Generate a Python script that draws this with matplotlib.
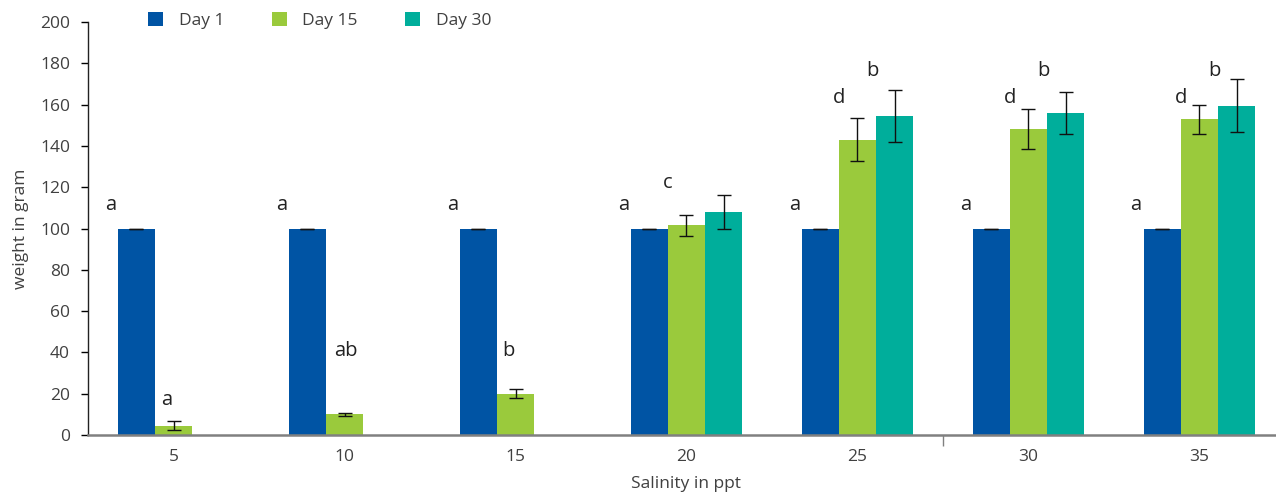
import numpy as np
import matplotlib
matplotlib.use("Agg")
import matplotlib.pyplot as plt

plt.rcParams["font.family"] = ["Open Sans", "DejaVu Sans"]

SALINITY = ["5", "10", "15", "20", "25", "30", "35"]
DAY1 = [100, 100, 100, 100, 100, 100, 100]
DAY1_ERR = [0, 0, 0, 0, 0, 0, 0]
DAY15 = [4.5, 10, 20, 101.5, 143, 148, 153]
DAY15_ERR = [2.2, 0.8, 2.2, 5.2, 10.3, 9.7, 7]
DAY30 = [np.nan, np.nan, np.nan, 108, 154.5, 156, 159.5]
DAY30_ERR = [np.nan, np.nan, np.nan, 8.3, 12.8, 10.2, 12.8]

# significance letters per series
LET_D1 = ["a", "a", "a", "a", "a", "a", "a"]
LET_D15 = ["a", "ab", "b", "c", "d", "d", "d"]
LET_D30 = ["", "", "", "", "b", "b", "b"]

# (label, values, errors, letters, color)
SERIES = [
    ("Day 1", DAY1, DAY1_ERR, LET_D1, "#0054a4"),
    ("Day 15", DAY15, DAY15_ERR, LET_D15, "#9aca3c"),
    ("Day 30", DAY30, DAY30_ERR, LET_D30, "#00ae9b"),
]
# letter placement: (x offset from group center, y in data units) per series/group
LET_DX = [[-0.37] * 7,
          [-0.04, 0.01, -0.04, -0.11, -0.11, -0.11, -0.11],
          [0, 0, 0, 0, 0.085, 0.085, 0.085]]
LET_Y = [[111.5] * 7,
         [17, 40.5, 40.5, 122, 163, 163, 163],
         [0, 0, 0, 0, 176.5, 176.5, 176.5]]

TXT = "#404040"

fig = plt.figure(figsize=(12.76, 4.97), dpi=100)
ax = fig.add_axes([0.069, 0.1247, 0.938, 0.831])

x = np.arange(len(SALINITY))
w = 0.217
handles = []
for i, (label, vals, errs, lets, col) in enumerate(SERIES):
    vals = np.array(vals, dtype=float)
    errs = np.array(errs, dtype=float)
    ok = ~np.isnan(vals)
    xs = x[ok] + (i - 1) * w
    h = ax.bar(xs, vals[ok], width=w, color=col, edgecolor=col, linewidth=0,
               label=label, zorder=2)
    ax.errorbar(xs, vals[ok], yerr=errs[ok], fmt="none", ecolor="#111111",
                elinewidth=1, capsize=5, capthick=1, zorder=3)
    handles.append(h)
    for j, t in enumerate(lets):
        if t:
            ax.text(x[j] + LET_DX[i][j], LET_Y[i][j], t, ha="center", va="center",
                    fontsize=14.5, color="#222222")

ax.set_xlim(-0.5, len(SALINITY) - 0.5)
ax.set_ylim(0, 200)
ax.set_yticks(np.arange(0, 201, 20))
ax.set_xticks(x)
ax.set_xticklabels(SALINITY)
ax.set_xticks([4.5], minor=True)
ax.tick_params(axis="x", which="major", length=0, pad=10, labelsize=12.5, labelcolor=TXT)
ax.tick_params(axis="x", which="minor", length=8, width=1, color="#808080")
ax.tick_params(axis="y", length=5, width=1, pad=8, labelsize=12.5, labelcolor=TXT)

for s in ("top", "right"):
    ax.spines[s].set_visible(False)
ax.spines["left"].set_linewidth(1)
ax.spines["left"].set_color("#222222")
ax.spines["bottom"].set_linewidth(1.8)
ax.spines["bottom"].set_color("#808080")
ax.spines["bottom"].set_zorder(4)

ax.set_xlabel("Salinity in ppt", fontsize=12.5, color=TXT, labelpad=8)
ax.set_ylabel("weight in gram", fontsize=12.5, color=TXT, labelpad=8)

fig.legend(handles=handles, loc="center left", bbox_to_anchor=(0.112, 0.958),
           ncol=3, frameon=False, fontsize=12.5, labelcolor=TXT, handlelength=0.85,
           handleheight=0.85, columnspacing=2.75, handletextpad=0.9,
           borderaxespad=0, borderpad=0.3)

fig.savefig("out.png", dpi=100)
